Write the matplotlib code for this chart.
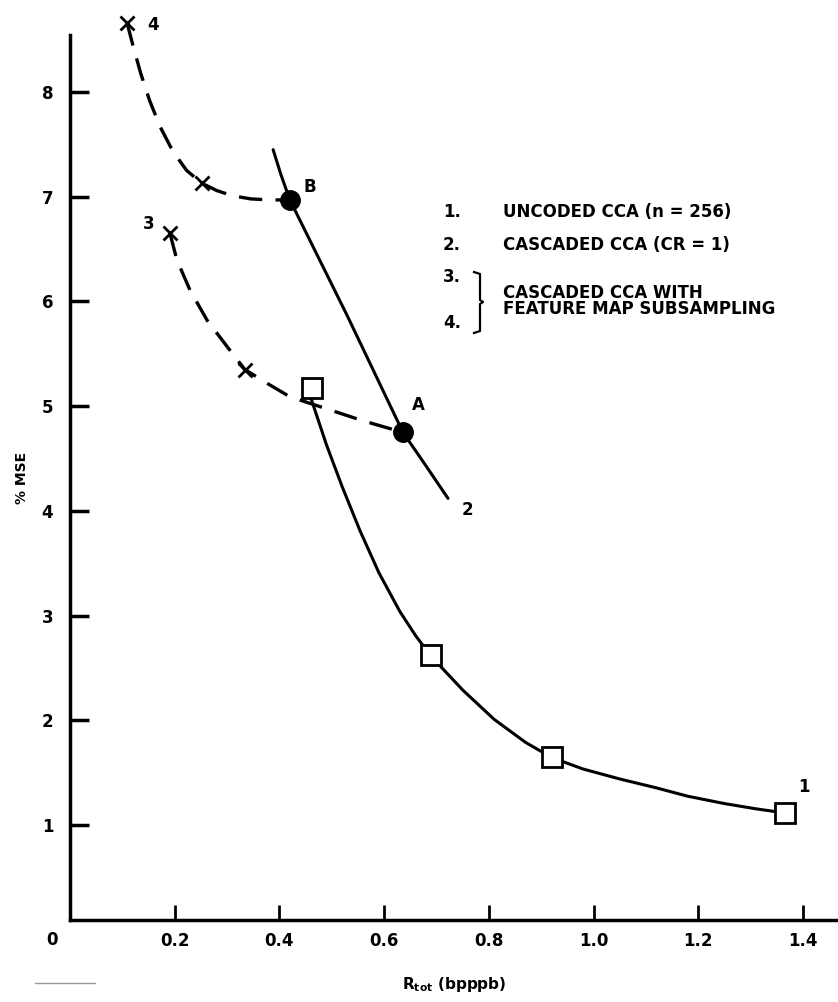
import numpy as np
import matplotlib
matplotlib.use('Agg')
import matplotlib.pyplot as plt
from matplotlib.lines import Line2D

W = 838
H = 1002

# curve 1: uncoded CCA (solid line, square markers)
uncoded_x = [0.46, 0.49, 0.52, 0.554, 0.59, 0.63, 0.66, 0.69, 0.75, 0.81, 0.87, 0.92,
             0.98, 1.05, 1.12, 1.18, 1.25, 1.31, 1.366]
uncoded_y = [5.08, 4.63, 4.23, 3.81, 3.41, 3.04, 2.81, 2.61, 2.29, 2.01, 1.79, 1.645,
             1.535, 1.44, 1.355, 1.275, 1.205, 1.155, 1.115]
uncoded_mx = [0.462, 0.69, 0.92, 1.366]
uncoded_my = [5.17, 2.62, 1.65, 1.115]

# curve 2: cascaded CCA (solid line, filled dots at B and A)
casc_x = [0.388, 0.403, 0.42, 0.53, 0.636, 0.68, 0.722]
casc_y = [7.45, 7.21, 6.97, 5.86, 4.75, 4.43, 4.12]
casc_mx = [0.42, 0.636]
casc_my = [6.97, 4.75]

# curve 3: subsampled, ends at A
sub3_x = [0.191, 0.204, 0.229, 0.262, 0.30, 0.334, 0.376, 0.42, 0.481, 0.56, 0.636]
sub3_y = [6.65, 6.40, 6.11, 5.82, 5.57, 5.35, 5.22, 5.09, 4.99, 4.86, 4.75]
sub3_mx = [0.191, 0.334]
sub3_my = [6.65, 5.35]

# curve 4: subsampled, ends at B
sub4_x = [0.109, 0.12, 0.135, 0.152, 0.172, 0.197, 0.223, 0.252, 0.28, 0.31, 0.345, 0.38, 0.42]
sub4_y = [8.66, 8.45, 8.18, 7.92, 7.67, 7.43, 7.25, 7.13, 7.06, 7.01, 6.98, 6.97, 6.97]
sub4_mx = [0.109, 0.252]
sub4_my = [8.66, 7.13]

curve_labels = ['1', '2', '3', '4', 'B', 'A']
label_x = [1.402, 0.760, 0.151, 0.158, 0.458, 0.665]
label_y = [1.36, 4.01, 6.74, 8.64, 7.09, 5.01]

xticks = [0.2, 0.4, 0.6, 0.8, 1.0, 1.2, 1.4]
xticklabels = ['0.2', '0.4', '0.6', '0.8', '1.0', '1.2', '1.4']
yticks = [1, 2, 3, 4, 5, 6, 7, 8]

legend_nums = ['1.', '2.', '3.', '4.']
legend_text = ['UNCODED CCA (n = 256)', 'CASCADED CCA (CR = 1)',
               'CASCADED CCA WITH', 'FEATURE MAP SUBSAMPLING']

plt.rcParams['font.family'] = ['DejaVu Sans']
plt.rcParams['font.weight'] = 'bold'

fig = plt.figure(figsize=(W / 100, H / 100), dpi=100)
ax = fig.add_axes([70 / W, (H - 920) / H, (W - 70) / W, (920 - 35) / H])

ax.set_xlim(0, 1.467)
ax.set_ylim(0.093, 8.545)

dash = (0, (7, 4))
ax.plot(uncoded_x, uncoded_y, color='black', lw=2.2, solid_capstyle='round', solid_joinstyle='round')
ax.plot(casc_x, casc_y, color='black', lw=2.2, solid_capstyle='round', solid_joinstyle='round')
ax.plot(sub3_x, sub3_y, color='black', lw=2.4, linestyle=dash)
ax.plot(sub4_x, sub4_y, color='black', lw=2.4, linestyle=dash, clip_on=False)

ax.plot(uncoded_mx, uncoded_my, 's', ms=15, mfc='white', mec='black', mew=2, zorder=5)
ax.plot(casc_mx, casc_my, 'o', ms=14, color='black', zorder=5)
ax.plot(sub3_mx, sub3_my, 'x', ms=10, mec='black', mew=2, zorder=5)
ax.plot(sub4_mx, sub4_my, 'x', ms=10, mec='black', mew=2, zorder=5, clip_on=False)

for i in range(len(curve_labels)):
    ax.text(label_x[i], label_y[i], curve_labels[i], fontsize=12, fontweight='bold',
            ha='center', va='center', clip_on=False)

ax.spines['top'].set_visible(False)
ax.spines['right'].set_visible(False)
ax.spines['left'].set_linewidth(2.5)
ax.spines['bottom'].set_linewidth(2.5)

ax.set_xticks(xticks)
ax.set_xticklabels(xticklabels)
ax.set_yticks(yticks)
ax.tick_params(axis='x', direction='in', length=11, width=2, pad=9, labelsize=12)
ax.tick_params(axis='y', direction='in', length=14, width=2.5, pad=12, labelsize=12)
ax.text(-0.034, -0.012, '0', transform=ax.get_xaxis_transform(), fontsize=12,
        fontweight='bold', ha='center', va='top')

ax.set_ylabel('% MSE', fontsize=10, fontweight='bold', labelpad=9)
ax.set_xlabel(r'$\mathbf{R_{tot}}$ (bpppb)', fontsize=11, fontweight='bold', labelpad=18)

# legend block written as plain text
num_y = [212, 245, 277, 323]
for i in range(4):
    fig.text(452 / W, 1 - num_y[i] / H, legend_nums[i], fontsize=12, fontweight='bold',
             ha='center', va='center')
text_y = [212, 245, 293, 309]
for i in range(4):
    fig.text(503 / W, 1 - text_y[i] / H, legend_text[i], fontsize=12, fontweight='bold',
             ha='left', va='center')

bx = [474, 480, 480, 483, 480, 480, 474]
by = [272, 274, 300, 302, 304, 331, 333]
fig.add_artist(Line2D([x / W for x in bx], [1 - y / H for y in by], color='black', lw=1.6))
fig.add_artist(Line2D([35 / W, 95 / W], [1 - 983 / H, 1 - 983 / H], color='#999999', lw=1))

plt.savefig('out.png', dpi=100)
